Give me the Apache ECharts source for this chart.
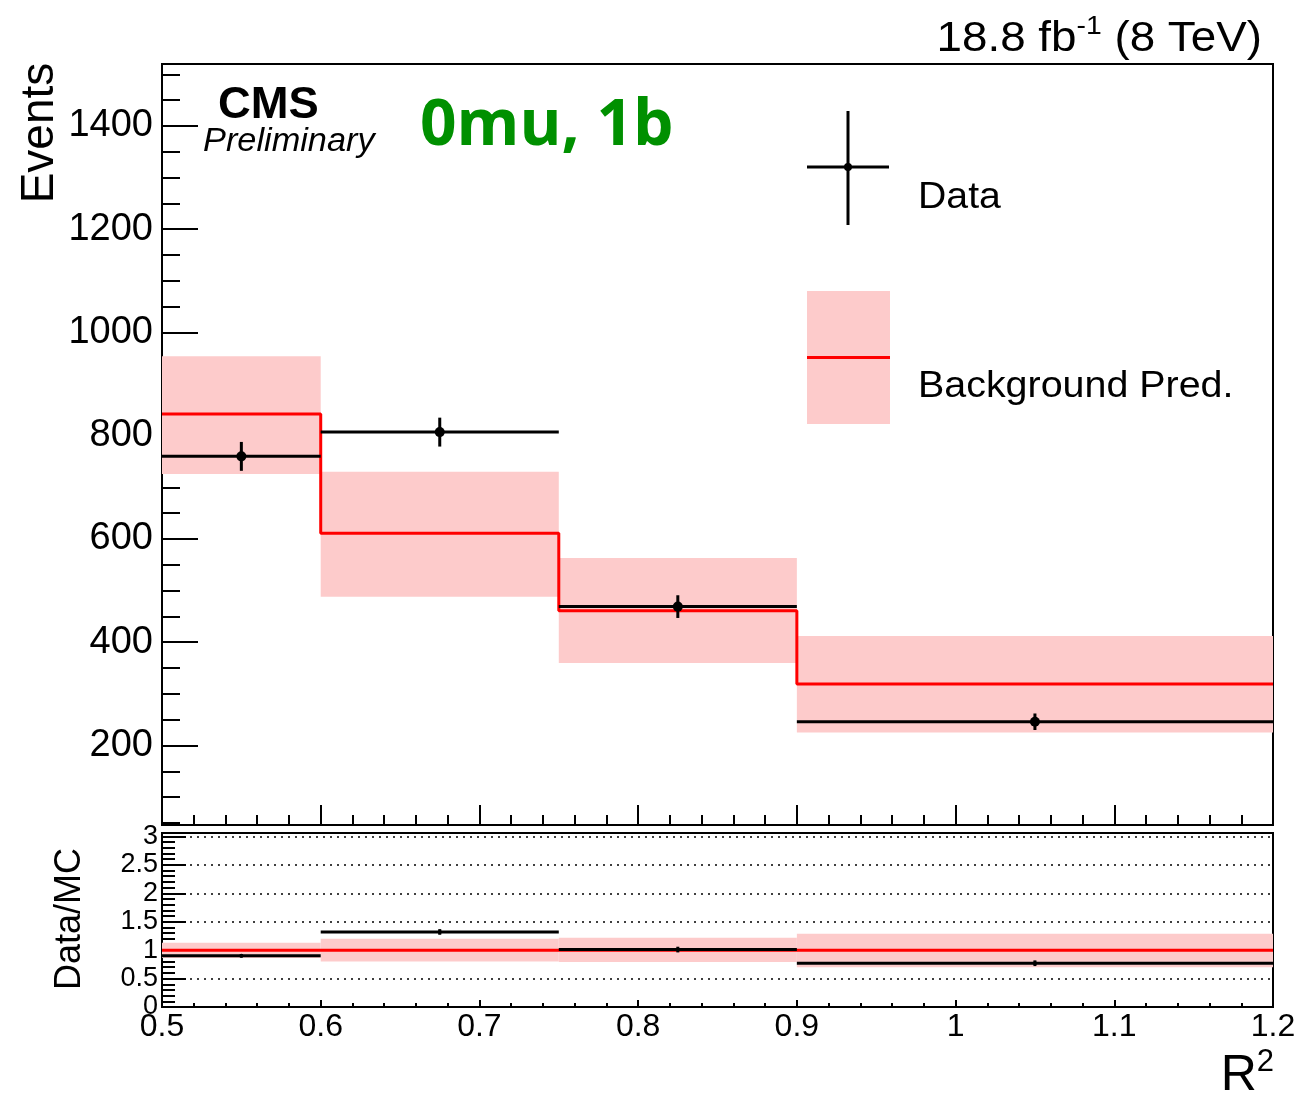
<!DOCTYPE html>
<html>
<head>
<meta charset="utf-8">
<script src="https://cdn.jsdelivr.net/npm/echarts@6/dist/echarts.min.js"></script>
<style>
html,body{margin:0;padding:0;background:#fff;}
#chart{width:1299px;height:1096px;}
</style>
</head>
<body>
<div id="chart"></div>
<script>
// ---- data ----
const binEdges = [0.5, 0.6, 0.75, 0.9, 1.2];
const dataCounts = [760, 807, 469, 246];
const dataErrors = [28, 28, 22, 16];
const bkgPred = [842, 611, 461, 319];
const bkgLow = [726, 488, 360, 225];
const bkgHigh = [954, 730, 563, 412];
const ratioValues = [0.90, 1.32, 1.01, 0.77];
const ratioErrors = [0.03, 0.05, 0.05, 0.05];
const ratioPred = [1, 1, 1, 1];
const ratioBandLow = [0.86, 0.80, 0.79, 0.70];
const ratioBandHigh = [1.13, 1.20, 1.22, 1.29];
const yMajorTicks = [200, 400, 600, 800, 1000, 1200, 1400];
const yMinorTicks = [50, 100, 150, 250, 300, 350, 450, 500, 550, 650, 700, 750, 850, 900, 950, 1050, 1100, 1150, 1250, 1300, 1350, 1450, 1500];

const FONT = "'Liberation Sans', Arial, Helvetica, sans-serif";
const BAND = '#fdcbcb';

const nBins = dataCounts.length;
const idx = [...Array(nBins).keys()];

function bandItem(params, api) {
  const p0 = api.coord([api.value(0), api.value(3)]);
  const p1 = api.coord([api.value(1), api.value(2)]);
  return {type: 'rect', shape: {x: p0[0], y: p0[1], width: p1[0] - p0[0], height: p1[1] - p0[1]},
          style: {fill: BAND}};
}
function makeDataItem(r) {
  return function (params, api) {
    const x0 = api.value(0), x1 = api.value(1), y = api.value(2), e = api.value(3);
    const xc = (x0 + x1) / 2;
    const pL = api.coord([x0, y]), pR = api.coord([x1, y]);
    const pT = api.coord([xc, y + e]), pB = api.coord([xc, y - e]), pc = api.coord([xc, y]);
    return {type: 'group', children: [
      {type: 'line', shape: {x1: pL[0], y1: pL[1], x2: pR[0], y2: pR[1]}, style: {stroke: '#000', lineWidth: 3}},
      {type: 'line', shape: {x1: pT[0], y1: pT[1], x2: pB[0], y2: pB[1]}, style: {stroke: '#000', lineWidth: 3}},
      {type: 'circle', shape: {cx: pc[0], cy: pc[1], r: r}, style: {fill: '#000'}}
    ]};
  };
}

const axisLineStyle = {color: '#000', width: 2};
const plain = v => String(v);

const option = {
  animation: false,
  backgroundColor: '#fff',
  grid: [
    {left: 162, right: 26, top: 64, height: 761, show: true, borderColor: '#000', borderWidth: 2, backgroundColor: 'transparent'},
    {left: 162, right: 26, top: 833, height: 174, show: true, borderColor: '#000', borderWidth: 2, backgroundColor: 'transparent'}
  ],
  xAxis: [
    {gridIndex: 0, type: 'value', min: 0.5, max: 1.2, interval: 0.1,
     axisLine: {show: true, onZero: false, lineStyle: axisLineStyle},
     axisTick: {show: true, inside: true, length: 20, lineStyle: axisLineStyle},
     minorTick: {show: true, splitNumber: 5, length: 10, lineStyle: axisLineStyle},
     axisLabel: {show: false}, splitLine: {show: false}},
    {gridIndex: 1, type: 'value', min: 0.5, max: 1.2, interval: 0.1,
     axisLine: {show: true, onZero: false, lineStyle: axisLineStyle},
     axisTick: {show: true, inside: true, length: 7, lineStyle: axisLineStyle},
     minorTick: {show: true, splitNumber: 5, length: 4, lineStyle: axisLineStyle},
     axisLabel: {show: true, fontSize: 32, color: '#000', fontFamily: FONT, margin: 4, formatter: plain},
     splitLine: {show: false}}
  ],
  yAxis: [
    {gridIndex: 0, type: 'value', min: 46, max: 1520, position: 'left',
     axisLine: {show: true, onZero: false, lineStyle: axisLineStyle},
     axisTick: {show: true, inside: true, length: 36, customValues: yMajorTicks, lineStyle: axisLineStyle},
     axisLabel: {show: true, customValues: yMajorTicks, fontSize: 38, color: '#000', fontFamily: FONT, margin: 9, formatter: plain},
     splitLine: {show: false}},
    {gridIndex: 0, type: 'value', min: 46, max: 1520, position: 'left',
     axisLine: {show: false},
     axisTick: {show: true, inside: true, length: 18, customValues: yMinorTicks, lineStyle: axisLineStyle},
     axisLabel: {show: false}, splitLine: {show: false}},
    {gridIndex: 1, type: 'value', min: 0, max: 3.06, interval: 0.5, position: 'left',
     axisLine: {show: true, onZero: false, lineStyle: axisLineStyle},
     axisTick: {show: true, inside: true, length: 24, lineStyle: axisLineStyle},
     minorTick: {show: true, splitNumber: 5, length: 13, lineStyle: axisLineStyle},
     axisLabel: {show: true, fontSize: 27, color: '#000', fontFamily: FONT, margin: 4, formatter: plain},
     splitLine: {show: true, lineStyle: {color: '#000', width: 1.5, type: [2, 5]}}}
  ],
  series: [
    {name: 'Background band', type: 'custom', xAxisIndex: 0, yAxisIndex: 0, z: 1,
     renderItem: bandItem, encode: {x: [0, 1], y: [2, 3]},
     data: idx.map(i => [binEdges[i], binEdges[i + 1], bkgLow[i], bkgHigh[i]])},
    {name: 'Background Pred.', type: 'line', xAxisIndex: 0, yAxisIndex: 0, z: 2, step: 'end',
     symbol: 'none', lineStyle: {color: '#ff0000', width: 3},
     data: binEdges.map((e, i) => [e, bkgPred[Math.min(i, nBins - 1)]])},
    {name: 'Data', type: 'custom', xAxisIndex: 0, yAxisIndex: 0, z: 3,
     renderItem: makeDataItem(5), encode: {x: [0, 1], y: [2]},
     data: idx.map(i => [binEdges[i], binEdges[i + 1], dataCounts[i], dataErrors[i]])},
    {name: 'Ratio band', type: 'custom', xAxisIndex: 1, yAxisIndex: 2, z: 1,
     renderItem: bandItem, encode: {x: [0, 1], y: [2, 3]},
     data: idx.map(i => [binEdges[i], binEdges[i + 1], ratioBandLow[i], ratioBandHigh[i]])},
    {name: 'Ratio pred', type: 'line', xAxisIndex: 1, yAxisIndex: 2, z: 2, step: 'end',
     symbol: 'none', lineStyle: {color: '#ff0000', width: 3},
     data: binEdges.map((e, i) => [e, ratioPred[Math.min(i, nBins - 1)]])},
    {name: 'Ratio data', type: 'custom', xAxisIndex: 1, yAxisIndex: 2, z: 3,
     renderItem: makeDataItem(2), encode: {x: [0, 1], y: [2]},
     data: idx.map(i => [binEdges[i], binEdges[i + 1], ratioValues[i], ratioErrors[i]])}
  ],
  graphic: [
    // top-right luminosity label
    {type: 'text', x: 1262, y: 14, z: 10, scaleX: 1.09,
     style: {text: '{a|18.8 fb}{s|-1}{a| (8 TeV)}', align: 'right', verticalAlign: 'top',
       rich: {a: {fontSize: 42, fontFamily: FONT, fill: '#000', lineHeight: 46, verticalAlign: 'bottom'},
              s: {fontSize: 26, fontFamily: FONT, fill: '#000', lineHeight: 26, verticalAlign: 'top'}}}},
    // CMS labels
    {type: 'text', x: 218, y: 106, z: 10, scaleX: 1.03,
     style: {text: 'CMS', fontSize: 44, fontWeight: 'bold', fontFamily: FONT, fill: '#000', align: 'left', verticalAlign: 'middle'}},
    {type: 'text', x: 203, y: 142, z: 10, scaleX: 1.04,
     style: {text: 'Preliminary', fontSize: 33, fontStyle: 'italic', fontFamily: FONT, fill: '#000', align: 'left', verticalAlign: 'middle'}},
    {type: 'text', x: 420, y: 127, z: 10,
     style: {text: '0mu, 1b', fontSize: 64, fontWeight: 'bold', fontFamily: "'Open Sans', 'Noto Sans', sans-serif", fill: '#009000', align: 'left', verticalAlign: 'middle'}},
    // axis titles
    {type: 'text', x: 40, y: 133, rotation: Math.PI / 2, z: 10,
     style: {text: 'Events', fontSize: 46, fontFamily: FONT, fill: '#000', align: 'center', verticalAlign: 'middle'}},
    {type: 'text', x: 70, y: 919, rotation: Math.PI / 2, z: 10,
     style: {text: 'Data/MC', fontSize: 36, fontFamily: FONT, fill: '#000', align: 'center', verticalAlign: 'middle'}},
    {type: 'text', x: 1274, y: 1101, z: 10,
     style: {text: '{a|R}{s|2}', align: 'right', verticalAlign: 'bottom',
       rich: {a: {fontSize: 50, fontFamily: FONT, fill: '#000', lineHeight: 54, verticalAlign: 'bottom'},
              s: {fontSize: 31, fontFamily: FONT, fill: '#000', lineHeight: 32, verticalAlign: 'top'}}}},
    // legend: data cross
    {type: 'line', z: 10, shape: {x1: 848, y1: 111, x2: 848, y2: 225}, style: {stroke: '#000', lineWidth: 3}},
    {type: 'line', z: 10, shape: {x1: 807, y1: 167, x2: 889, y2: 167}, style: {stroke: '#000', lineWidth: 3}},
    {type: 'circle', z: 10, shape: {cx: 848, cy: 167, r: 4}, style: {fill: '#000'}},
    {type: 'text', x: 918, y: 198, z: 10, scaleX: 1.06,
     style: {text: 'Data', fontSize: 37, fontFamily: FONT, fill: '#000', align: 'left', verticalAlign: 'middle'}},
    // legend: background
    {type: 'rect', z: 10, shape: {x: 807, y: 291, width: 83, height: 133}, style: {fill: BAND}},
    {type: 'line', z: 11, shape: {x1: 807, y1: 357.5, x2: 890, y2: 357.5}, style: {stroke: '#ff0000', lineWidth: 3}},
    {type: 'text', x: 918, y: 387, z: 10, scaleX: 1.065,
     style: {text: 'Background Pred.', fontSize: 37, fontFamily: FONT, fill: '#000', align: 'left', verticalAlign: 'middle'}}
  ]
};

const chart = echarts.init(document.getElementById('chart'), null, {renderer: 'canvas'});
chart.setOption(option);
</script>
</body>
</html>
